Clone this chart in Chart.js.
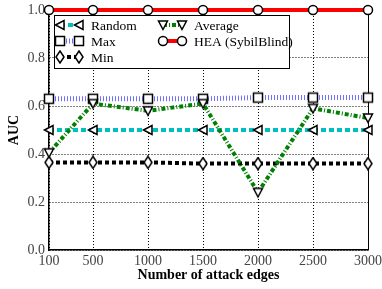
<!DOCTYPE html>
<html>
<head>
<meta charset="utf-8">
<script src="https://cdn.jsdelivr.net/npm/chart.js@4/dist/chart.umd.min.js"></script>
<style>
  html, body { margin: 0; padding: 0; background: #fff; }
  #wrap { width: 382px; height: 289px; }
</style>
</head>
<body>
<div id="wrap"><canvas id="aucChart" width="382" height="289"></canvas></div>
<script>
// attack edges on x axis
const edges = [100, 500, 1000, 1500, 2000, 2500, 3000];
const xTicks = [100, 500, 1000, 1500, 2000, 2500, 3000];
const yTicks = [0, 0.2, 0.4, 0.6, 0.8, 1.0];

// AUC per method
const randomAUC = [0.5, 0.5, 0.5, 0.5, 0.5, 0.5, 0.5];
const maxAUC = [0.63, 0.63, 0.63, 0.63, 0.635, 0.635, 0.635];
const minAUC = [0.365, 0.365, 0.365, 0.36, 0.36, 0.36, 0.36];
const avgAUC = [0.405, 0.61, 0.58, 0.61, 0.24, 0.59, 0.55];
const heaAUC = [1, 1, 1, 1, 1, 1, 1];

const labels = ['Random', 'Max', 'Min', 'Average', 'HEA (SybilBlind)'];

// small marker images, white fill with black edge
function makeMarker(shape) {
    const c = document.createElement('canvas');
    c.width = 14; c.height = 14;
    const g = c.getContext('2d');
    g.fillStyle = '#fff';
    g.strokeStyle = '#000';
    g.lineWidth = 1.5;
    g.beginPath();
    if (shape === 'left') {
        g.moveTo(2.5, 7); g.lineTo(11, 2.5); g.lineTo(11, 11.5); g.closePath();
    } else if (shape === 'down') {
        g.moveTo(2.5, 3); g.lineTo(11.5, 3); g.lineTo(7, 11.5); g.closePath();
    } else if (shape === 'square') {
        g.rect(2.5, 2.5, 9, 9);
    } else if (shape === 'diamond') {
        g.moveTo(7, 1); g.lineTo(11, 7); g.lineTo(7, 13); g.lineTo(3, 7); g.closePath();
    } else {
        g.arc(7, 7, 4.5, 0, Math.PI * 2);
    }
    g.fill();
    g.stroke();
    return c;
}

const markers = {
    left: makeMarker('left'),
    square: makeMarker('square'),
    diamond: makeMarker('diamond'),
    down: makeMarker('down'),
    circle: makeMarker('circle')
};

function series(label, values, color, width, dash, marker, order) {
    return {
        label: label,
        data: edges.map((e, i) => ({ x: e, y: values[i] })),
        borderColor: color,
        borderWidth: width,
        borderDash: dash,
        borderCapStyle: 'butt',
        pointStyle: marker,
        pointRadius: 5,
        pointHoverRadius: 5,
        fill: false,
        tension: 0,
        clip: false,
        order: order
    };
}

const datasets = [
    series(labels[0], randomAUC, '#00bfbf', 4, [5, 3], markers.left, 3),
    series(labels[1], maxAUC, '#6f6fff', 5, [1, 2], markers.square, 4),
    series(labels[2], minAUC, '#000000', 4, [4, 3], markers.diamond, 5),
    series(labels[3], avgAUC, '#008000', 4, [4, 2, 1, 2], markers.down, 2),
    series(labels[4], heaAUC, '#ff0000', 4, [], markers.circle, 1)
];

// top and right frame lines
const framePlugin = {
    id: 'frame',
    beforeDatasetsDraw(chart) {
        const { ctx, chartArea: a } = chart;
        ctx.save();
        ctx.strokeStyle = '#000';
        ctx.lineWidth = 1;
        ctx.beginPath();
        ctx.moveTo(a.left, a.top + 0.5);
        ctx.lineTo(a.right + 0.5, a.top + 0.5);
        ctx.lineTo(a.right + 0.5, a.bottom);
        ctx.stroke();
        ctx.restore();
    }
};

// legend box inside the plot: marker - line - marker, two columns
const legendPlugin = {
    id: 'boxLegend',
    afterDatasetsDraw(chart) {
        const ctx = chart.ctx;
        const box = { x: 54.5, y: 15.5, w: 235, h: 53 };
        ctx.save();
        ctx.fillStyle = '#fff';
        ctx.fillRect(box.x, box.y, box.w, box.h);
        ctx.strokeStyle = '#000';
        ctx.lineWidth = 1;
        ctx.strokeRect(box.x, box.y, box.w, box.h);

        const slots = [
            { x: 60, y: 25 }, { x: 60, y: 41 }, { x: 60, y: 57 },
            { x: 163, y: 25 }, { x: 163, y: 41 }
        ];
        ctx.font = '13.5px "Liberation Serif", serif';
        ctx.textBaseline = 'middle';
        chart.data.datasets.forEach((ds, i) => {
            const s = slots[i];
            const x2 = s.x + 19;
            ctx.save();
            ctx.strokeStyle = ds.borderColor;
            ctx.lineWidth = ds.borderWidth;
            ctx.setLineDash(ds.borderDash);
            ctx.beginPath();
            ctx.moveTo(s.x, s.y);
            ctx.lineTo(x2, s.y);
            ctx.stroke();
            ctx.restore();
            ctx.drawImage(ds.pointStyle, s.x - 7, s.y - 7);
            ctx.drawImage(ds.pointStyle, x2 - 7, s.y - 7);
            ctx.fillStyle = '#000';
            ctx.fillText(ds.label, s.x + 31, s.y + 1);
        });
        ctx.restore();
    }
};

const tickFont = { family: '"Liberation Serif", serif', size: 14 };
const titleFont = { family: '"Liberation Serif", serif', size: 14, weight: 'bold' };

new Chart(document.getElementById('aucChart').getContext('2d'), {
    type: 'line',
    data: { datasets: datasets },
    options: {
        responsive: false,
        animation: false,
        layout: { padding: { top: 10, right: 14, left: 0, bottom: 0 } },
        plugins: {
            legend: { display: false },
            tooltip: { enabled: false }
        },
        scales: {
            x: {
                type: 'linear',
                min: 100,
                max: 3000,
                afterBuildTicks: s => { s.ticks = xTicks.map(v => ({ value: v })); },
                afterFit: s => { s.height = 39; s.paddingLeft = 0; s.paddingRight = 0; },
                ticks: { font: tickFont, color: '#444', padding: 3, maxRotation: 0, callback: v => String(v) },
                grid: { color: '#000', lineWidth: 1, drawTicks: false },
                border: { display: true, color: '#000', width: 1.5, dash: [1, 2] },
                title: { display: true, text: 'Number of attack edges', font: titleFont, color: '#000', padding: { top: 0, bottom: 5 } }
            },
            y: {
                min: 0,
                max: 1,
                afterBuildTicks: s => { s.ticks = yTicks.map(v => ({ value: v })); },
                afterFit: s => { s.width = 49; s.paddingTop = 0; s.paddingBottom = 0; },
                ticks: { font: tickFont, color: '#444', padding: 4, callback: v => v.toFixed(1) },
                grid: { color: '#000', lineWidth: 1, drawTicks: false },
                border: { display: true, color: '#000', width: 1.5, dash: [1, 2] },
                title: { display: true, text: 'AUC', font: titleFont, color: '#000', padding: { top: 6, bottom: 0 } }
            }
        }
    },
    plugins: [framePlugin, legendPlugin]
});
</script>
</body>
</html>
